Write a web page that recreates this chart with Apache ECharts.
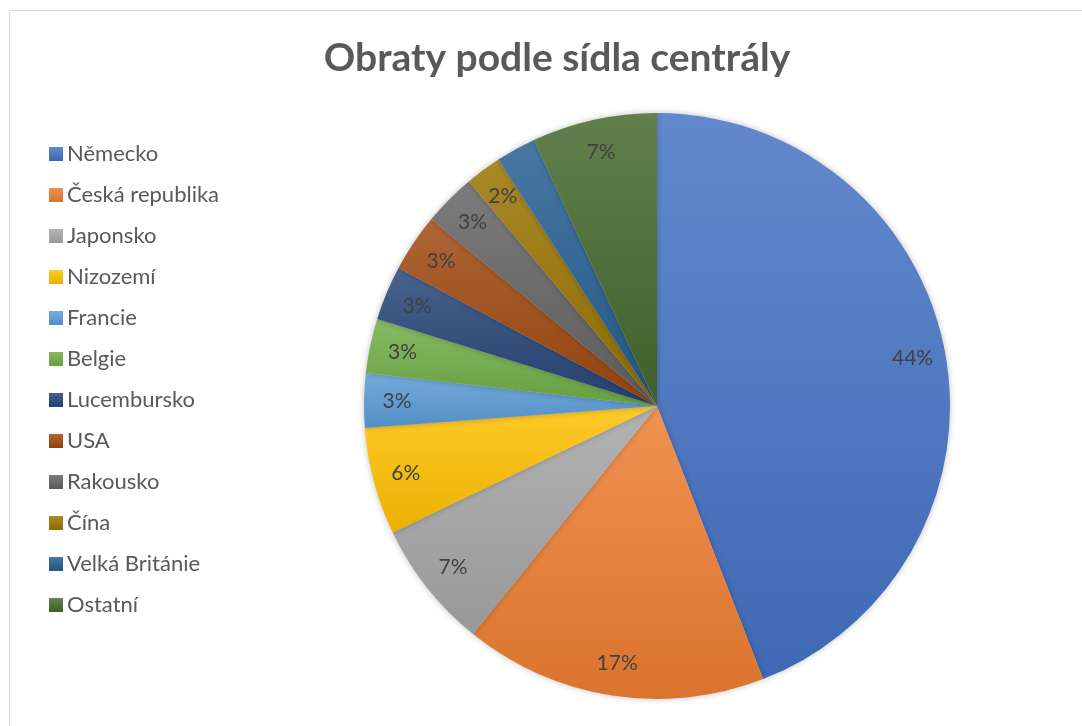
<!DOCTYPE html>
<html>
<head>
<meta charset="utf-8">
<script src="https://cdn.jsdelivr.net/npm/echarts@6/dist/echarts.min.js"></script>
<style>
  html, body { margin: 0; padding: 0; background: #fff; }
  #chart { width: 1082px; height: 726px; }
</style>
</head>
<body>
<div id="chart"></div>
<script>
// data
const countries = ['Německo', 'Česká republika', 'Japonsko', 'Nizozemí', 'Francie', 'Belgie',
  'Lucembursko', 'USA', 'Rakousko', 'Čína', 'Velká Británie', 'Ostatní'];
const shares = [44.1, 16.7, 7.1, 5.9, 3.0, 3.0, 3.0, 3.2, 2.9, 2.0, 2.2, 6.9];
const baseColors = ['#4472C4', '#ED7D31', '#A5A5A5', '#FFC000', '#5B9BD5', '#70AD47',
  '#264478', '#9E480E', '#636363', '#997300', '#255E91', '#43682B'];

const FONT = 'Lato';

// mix a hex colour with white (t>0) or black (t<0)
function shade(hex, t) {
  const n = parseInt(hex.slice(1), 16);
  const ch = [(n >> 16) & 255, (n >> 8) & 255, n & 255].map(c =>
    Math.round(t > 0 ? c + (255 - c) * t : c * (1 + t)));
  return 'rgb(' + ch.join(',') + ')';
}

function gradient(hex) {
  return new echarts.graphic.LinearGradient(0, 0, 0, 1, [
    { offset: 0, color: shade(hex, 0.16) },
    { offset: 1, color: shade(hex, -0.08) }
  ]);
}

const chart = echarts.init(document.getElementById('chart'));

const pieData = countries.map((name, i) => ({
  name,
  value: shares[i],
  itemStyle: { color: gradient(baseColors[i]) }
}));

chart.setOption({
  animation: false,
  title: {
    text: 'Obraty podle sídla centrály',
    left: 552,
    top: 34,
    textAlign: 'center',
    textStyle: { fontFamily: FONT, fontSize: 39, fontWeight: 'bold', color: '#595959' }
  },
  legend: {
    orient: 'vertical',
    left: 44,
    top: 138,
    itemWidth: 14,
    itemHeight: 14,
    itemGap: 19,
    icon: 'rect',
    data: countries,
    textStyle: { fontFamily: FONT, fontSize: 22, lineHeight: 22, color: '#595959', padding: [0, 0, 0, -1] }
  },
  graphic: [{
    type: 'rect',
    silent: true,
    shape: { x: 9.5, y: 10.5, width: 1100, height: 800 },
    style: { fill: 'none', stroke: '#d9d9d9', lineWidth: 1 }
  }],
  series: [
    {
      type: 'pie',
      center: [657, 406],
      radius: [0, 293],
      startAngle: 90,
      clockwise: true,
      label: { show: false },
      labelLine: { show: false },
      emphasis: { disabled: true },
      itemStyle: { shadowBlur: 6, shadowColor: 'rgba(0,0,0,0.25)' },
      data: pieData
    },
    {
      // transparent twin, only to place the percent labels near the rim
      type: 'pie',
      center: [657, 406],
      radius: [0, 514],
      startAngle: 90,
      clockwise: true,
      silent: true,
      percentPrecision: 0,
      itemStyle: { color: 'rgba(0,0,0,0)' },
      label: {
        show: true,
        position: 'inside',
        formatter: '{d}%',
        fontFamily: FONT,
        fontSize: 21,
        color: '#404040'
      },
      labelLine: { show: false },
      emphasis: { disabled: true },
      data: countries.map((name, i) => ({ name, value: shares[i] }))
    }
  ]
});
</script>
</body>
</html>
